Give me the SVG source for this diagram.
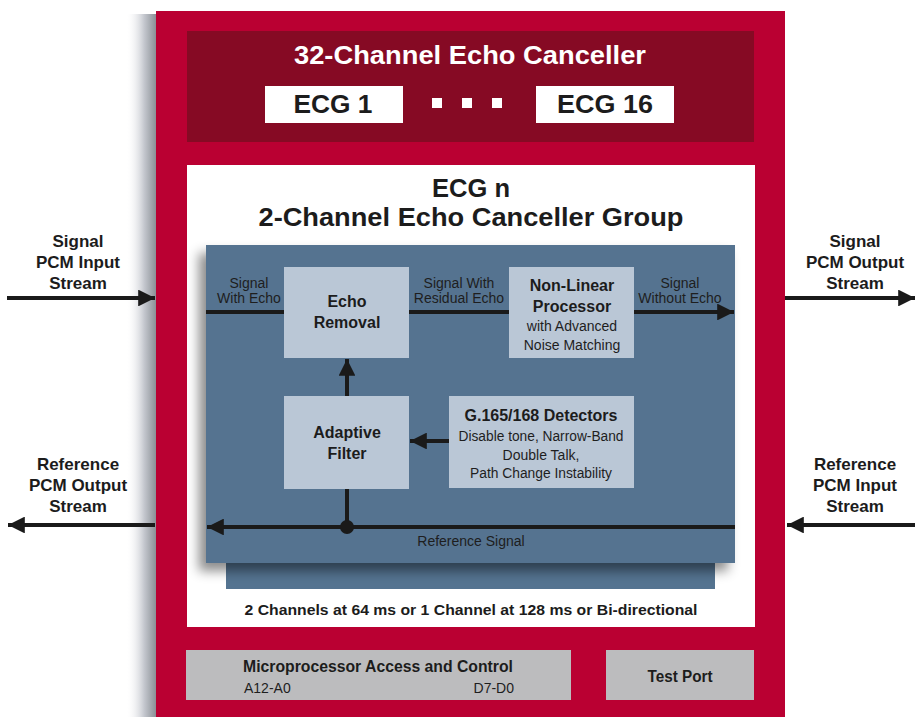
<svg xmlns="http://www.w3.org/2000/svg" width="915" height="717" viewBox="0 0 915 717">
<defs>
<style>
.b{font-family:"Liberation Sans",Arial,Helvetica,sans-serif;font-weight:bold;fill:#1c1c1c;text-anchor:middle}
.r{font-family:"Liberation Sans",Arial,Helvetica,sans-serif;fill:#1e1e1e;text-anchor:middle}
.w{font-family:"Liberation Sans",Arial,Helvetica,sans-serif;font-weight:bold;fill:#ffffff;text-anchor:middle}
.lb{fill:#bac7d6}
.gr{fill:#bcbcbe}
.ln{stroke:#1a1a1a;stroke-width:4;fill:none}
</style>
<linearGradient id="lsh" x1="0" y1="0" x2="1" y2="0">
<stop offset="0" stop-color="#ffffff" stop-opacity="0"/>
<stop offset="0.6" stop-color="#c5c8cf"/>
<stop offset="1" stop-color="#8b9096"/>
</linearGradient>
<filter id="ds" x="-10%" y="-10%" width="120%" height="130%">
<feDropShadow dx="-7" dy="8" stdDeviation="6" flood-color="#000" flood-opacity="0.45"/>
</filter>
<marker id="ah" viewBox="0 0 10 10" refX="10" refY="5" markerWidth="5" markerHeight="4.2" markerUnits="strokeWidth" orient="auto">
<path d="M0,0 L10,5 L0,10 Z" fill="#1a1a1a"/>
</marker>
</defs>

<g id="outer">
<rect x="126" y="14" width="30" height="703" fill="url(#lsh)"/>
<rect x="156" y="11" width="629" height="706" fill="#ba0032"/>
</g>

<g id="top-block">
<rect x="187" y="31" width="567" height="111" fill="#860a24"/>
<text class="w" x="470" y="64" font-size="25" textLength="352" lengthAdjust="spacingAndGlyphs">32-Channel Echo Canceller</text>
</g>
<g id="ecg1">
<rect x="265" y="86" width="138" height="37" fill="#ffffff"/>
<text class="b" x="333" y="113" font-size="25" textLength="79" lengthAdjust="spacingAndGlyphs">ECG 1</text>
</g>
<g id="dots">
<rect x="432" y="98" width="10" height="10" fill="#ffffff"/>
<rect x="462" y="98" width="10" height="10" fill="#ffffff"/>
<rect x="492" y="98" width="10" height="10" fill="#ffffff"/>
</g>
<g id="ecg16">
<rect x="536" y="86" width="138" height="37" fill="#ffffff"/>
<text class="b" x="605" y="113" font-size="25" textLength="96" lengthAdjust="spacingAndGlyphs">ECG 16</text>
</g>

<g id="ecg-n">
<rect x="187" y="165" width="568" height="462" fill="#ffffff"/>
<text class="b" x="471" y="197" font-size="25" textLength="78" lengthAdjust="spacingAndGlyphs">ECG n</text>
<text class="b" x="471" y="226" font-size="25" textLength="425" lengthAdjust="spacingAndGlyphs">2-Channel Echo Canceller Group</text>
<rect x="226" y="545" width="489" height="44" fill="#547390"/>
<rect x="206" y="245" width="529" height="318" fill="#547390" filter="url(#ds)"/>
<text class="b" x="471" y="615" font-size="15" textLength="453" lengthAdjust="spacingAndGlyphs">2 Channels at 64 ms or 1 Channel at 128 ms or Bi-directional</text>
</g>

<g id="echo-removal">
<rect class="lb" x="284" y="267" width="125" height="91"/>
<text class="b" x="347" y="307" font-size="16">Echo</text>
<text class="b" x="347" y="328" font-size="16">Removal</text>
</g>
<g id="nlp">
<rect class="lb" x="509" y="267" width="125" height="91"/>
<text class="b" x="572" y="291" font-size="16">Non-Linear</text>
<text class="b" x="572" y="312" font-size="16">Processor</text>
<text class="r" x="572" y="331" font-size="14">with Advanced</text>
<text class="r" x="572" y="350" font-size="14">Noise Matching</text>
</g>
<g id="adaptive-filter">
<rect class="lb" x="284" y="396" width="125" height="93"/>
<text class="b" x="347" y="438" font-size="16">Adaptive</text>
<text class="b" x="347" y="459" font-size="16">Filter</text>
</g>
<g id="detectors">
<rect class="lb" x="449" y="396" width="185" height="92"/>
<text class="b" x="541" y="421" font-size="16">G.165/168 Detectors</text>
<text class="r" x="541" y="441" font-size="14" textLength="165" lengthAdjust="spacingAndGlyphs">Disable tone, Narrow-Band</text>
<text class="r" x="541" y="460" font-size="14">Double Talk,</text>
<text class="r" x="541" y="478" font-size="14" textLength="142" lengthAdjust="spacingAndGlyphs">Path Change Instability</text>
</g>

<g id="micro">
<rect class="gr" x="186" y="650" width="385" height="50"/>
<text class="b" x="378" y="672" font-size="16" textLength="270" lengthAdjust="spacingAndGlyphs">Microprocessor Access and Control</text>
<text class="r" x="244" y="693" font-size="14" style="text-anchor:start">A12-A0</text>
<text class="r" x="514" y="693" font-size="14" style="text-anchor:end">D7-D0</text>
</g>
<g id="test-port">
<rect class="gr" x="606" y="650" width="148" height="50"/>
<text class="b" x="680" y="682" font-size="16" textLength="65" lengthAdjust="spacingAndGlyphs">Test Port</text>
</g>

<g id="labels">
<text class="r" x="249" y="288" font-size="14">Signal</text>
<text class="r" x="249" y="303" font-size="14">With Echo</text>
<text class="r" x="459" y="288" font-size="14">Signal With</text>
<text class="r" x="459" y="303" font-size="14">Residual Echo</text>
<text class="r" x="680" y="288" font-size="14">Signal</text>
<text class="r" x="680" y="303" font-size="14">Without Echo</text>
<text class="r" x="471" y="546" font-size="14">Reference Signal</text>
<text class="b" x="78" y="247" font-size="17">Signal</text>
<text class="b" x="78" y="268" font-size="17">PCM Input</text>
<text class="b" x="78" y="289" font-size="17">Stream</text>
<text class="b" x="78" y="470" font-size="17">Reference</text>
<text class="b" x="78" y="491" font-size="17">PCM Output</text>
<text class="b" x="78" y="512" font-size="17">Stream</text>
<text class="b" x="855" y="247" font-size="17">Signal</text>
<text class="b" x="855" y="268" font-size="17">PCM Output</text>
<text class="b" x="855" y="289" font-size="17">Stream</text>
<text class="b" x="855" y="470" font-size="17">Reference</text>
<text class="b" x="855" y="491" font-size="17">PCM Input</text>
<text class="b" x="855" y="512" font-size="17">Stream</text>
</g>

<g id="connectors">
<line class="ln" x1="206" y1="312" x2="284" y2="312"/>
<line class="ln" x1="409" y1="312" x2="509" y2="312"/>
<line class="ln" x1="634" y1="312" x2="734" y2="312" marker-end="url(#ah)"/>
<line class="ln" x1="347" y1="396" x2="347" y2="359" marker-end="url(#ah)"/>
<line class="ln" x1="449" y1="441" x2="410" y2="441" marker-end="url(#ah)"/>
<line class="ln" x1="347" y1="489" x2="347" y2="527"/>
<line class="ln" x1="735" y1="527" x2="207" y2="527" marker-end="url(#ah)"/>
<circle cx="347" cy="527" r="7" fill="#1a1a1a"/>
<line class="ln" x1="7" y1="298" x2="155" y2="298" marker-end="url(#ah)"/>
<line class="ln" x1="155" y1="525" x2="8" y2="525" marker-end="url(#ah)"/>
<line class="ln" x1="785" y1="298" x2="915" y2="298" marker-end="url(#ah)"/>
<line class="ln" x1="915" y1="525" x2="787" y2="525" marker-end="url(#ah)"/>
</g>
</svg>
